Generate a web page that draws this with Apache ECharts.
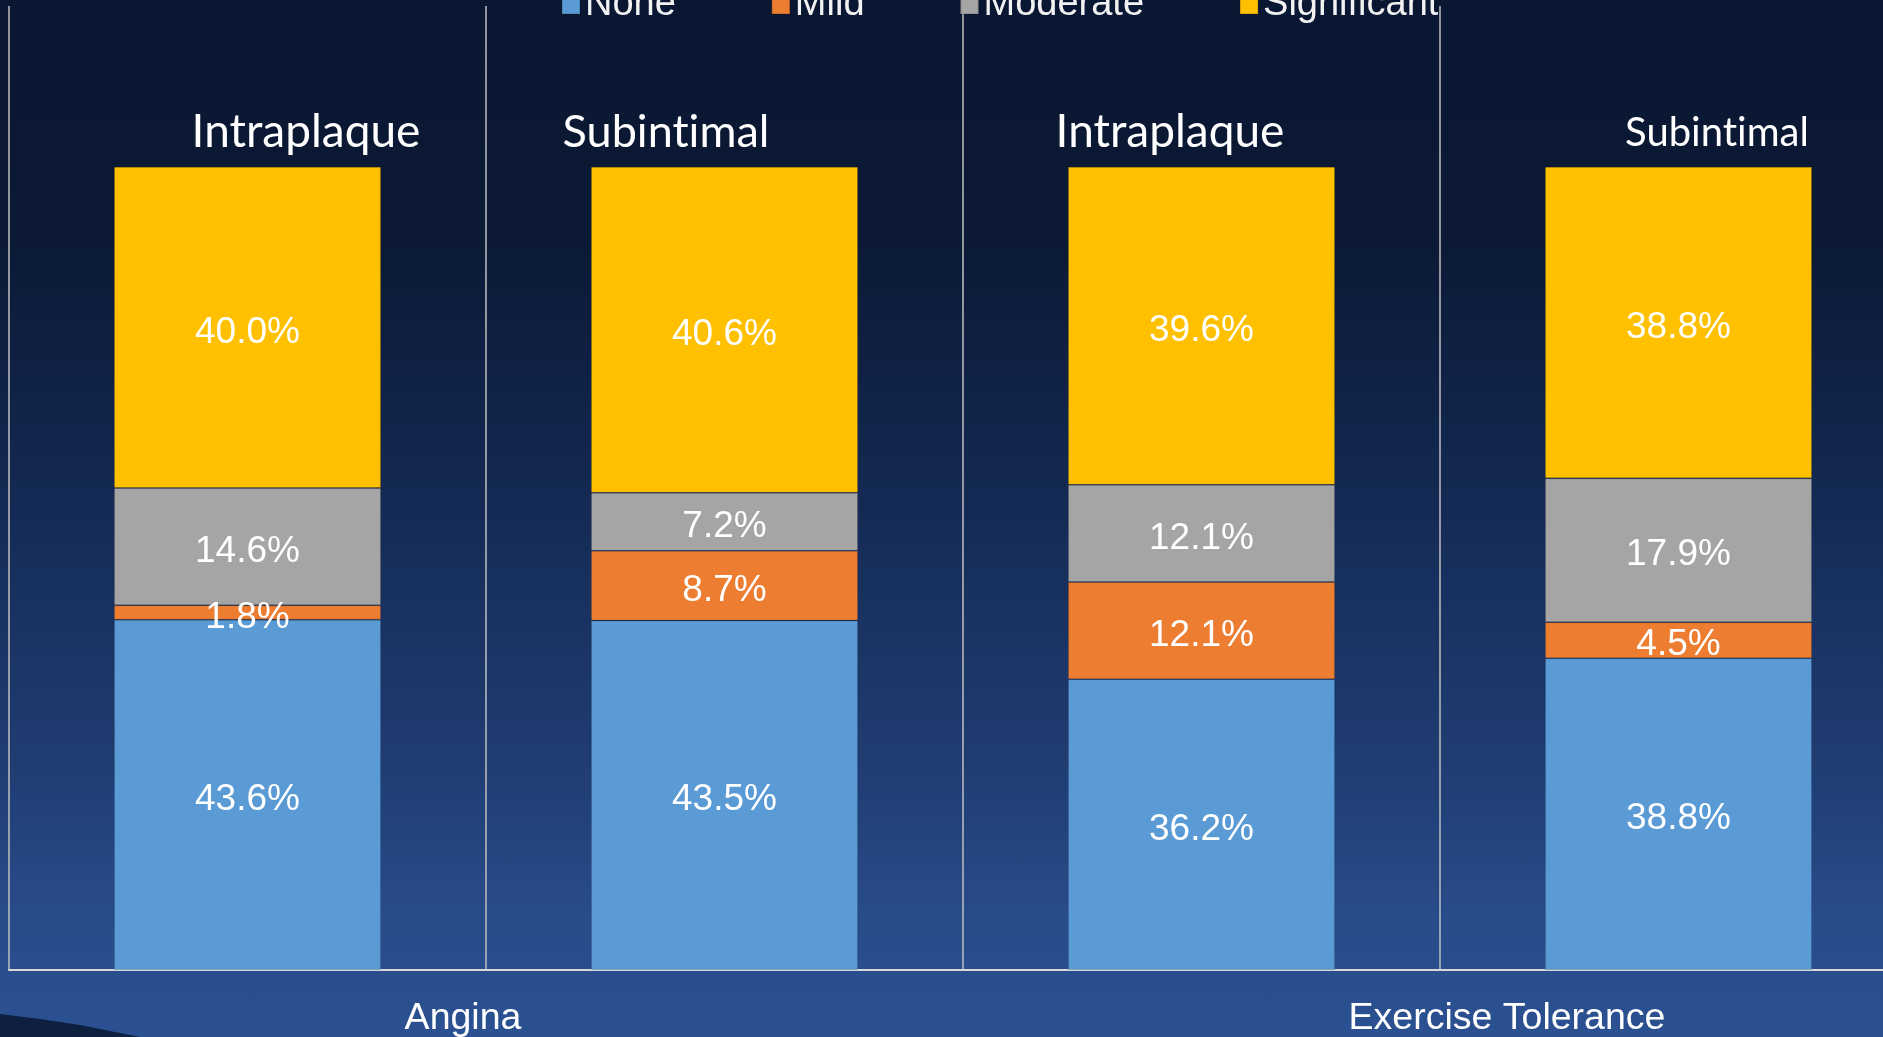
<!DOCTYPE html>
<html>
<head>
<meta charset="utf-8">
<script src="https://cdn.jsdelivr.net/npm/echarts@6/dist/echarts.min.js"></script>
<style>
  html, body { margin: 0; padding: 0; }
  body {
    width: 1883px; height: 1037px; overflow: hidden;
    background: linear-gradient(to bottom, #0A1733 0%, #0B1934 22%, #102247 38%, #172F5C 55%, #1F3B70 72%, #284B89 88%, #2B5192 100%);
  }
  #chart { width: 1960px; height: 1037px; }
</style>
</head>
<body>
<div id="chart"></div>
<script>
// Four stacked bars: procedure technique within each outcome group
const categories = ['Intraplaque', 'Subintimal', 'Intraplaque', 'Subintimal'];
const groupLabels = ['Angina', 'Exercise Tolerance'];
const seriesNames = ['None', 'Mild', 'Moderate', 'Significant'];
const noneVals = [43.6, 43.5, 36.2, 38.8];
const mildVals = [1.8, 8.7, 12.1, 4.5];
const moderateVals = [14.6, 7.2, 12.1, 17.9];
const significantVals = [40.0, 40.6, 39.6, 38.8];
const colors = ['#5B9BD5', '#ED7D31', '#A5A5A5', '#FFC000'];

const labelFont = '"Liberation Sans", Arial, sans-serif';
const titleFont = 'Lato, "Open Sans", sans-serif';

function makeSeries(name, values, color) {
  return {
    name: name,
    type: 'bar',
    stack: 'total',
    barWidth: '56%',
    data: values,
    itemStyle: { color: color, borderColor: 'rgba(0,0,0,0.12)', borderWidth: 1 },
    label: {
      show: true,
      position: 'inside',
      offset: [0, 5],
      color: '#FFFFFF',
      fontFamily: labelFont,
      fontSize: 37,
      formatter: p => p.value.toFixed(1) + '%'
    },
    emphasis: { disabled: true }
  };
}

// keep "t"+"i" as separate glyphs (no ligature) in the panel titles
function noLigature(s) {
  return s.replace(/ti/g, 't\u200Ci');
}

function titleText(text, x, y, size) {
  return {
    type: 'text', silent: true, x: x, y: y,
    style: { text: noLigature(text), fill: '#FFFFFF', font: size + 'px ' + titleFont, align: 'center', verticalAlign: 'middle' }
  };
}

function groupText(text, x, y) {
  return {
    type: 'text', silent: true, x: x, y: y,
    style: { text: text, fill: '#FFFFFF', font: '37.5px ' + labelFont, align: 'center', verticalAlign: 'middle' }
  };
}

const chart = echarts.init(document.getElementById('chart'), null, { renderer: 'canvas' });

chart.setOption({
  backgroundColor: 'transparent',
  animation: false,
  color: colors,
  legend: {
    data: seriesNames,
    left: 556,
    top: -19,
    icon: 'rect',
    itemWidth: 18,
    itemHeight: 18,
    itemGap: 95,
    textStyle: { color: '#F2F2F2', fontFamily: labelFont, fontSize: 38 }
  },
  // plot runs past the right edge of the page: last panel is partly clipped
  grid: { left: 9, right: 43, top: 6, bottom: 67, containLabel: false },
  xAxis: {
    type: 'category',
    data: categories,
    axisLine: { show: true, lineStyle: { color: '#D9D9D9', width: 2 } },
    axisTick: { show: false },
    axisLabel: { show: false },
    splitLine: { show: true, lineStyle: { color: '#BFBFBF', width: 1.5 } }
  },
  yAxis: {
    type: 'value',
    min: 0,
    max: 120,
    show: false,
    splitLine: { show: false }
  },
  series: [
    makeSeries(seriesNames[0], noneVals, colors[0]),
    makeSeries(seriesNames[1], mildVals, colors[1]),
    makeSeries(seriesNames[2], moderateVals, colors[2]),
    makeSeries(seriesNames[3], significantVals, colors[3])
  ],
  graphic: [
    // dark swoosh in the lower-left corner of the backdrop
    {
      type: 'polygon', z: -1, silent: true,
      shape: { points: [[0, 1014], [40, 1019], [80, 1025], [115, 1032], [140, 1037], [0, 1037]] },
      style: { fill: '#0E1F3F' }
    },
    // panel titles above each bar
    titleText(categories[0], 306, 132, 46),
    titleText(categories[1], 666, 132, 45),
    titleText(categories[2], 1170, 132, 46),
    titleText(categories[3], 1717, 133, 40),
    // outcome group labels under the axis
    groupText(groupLabels[0], 463, 1019),
    groupText(groupLabels[1], 1507, 1019)
  ]
});
</script>
</body>
</html>
